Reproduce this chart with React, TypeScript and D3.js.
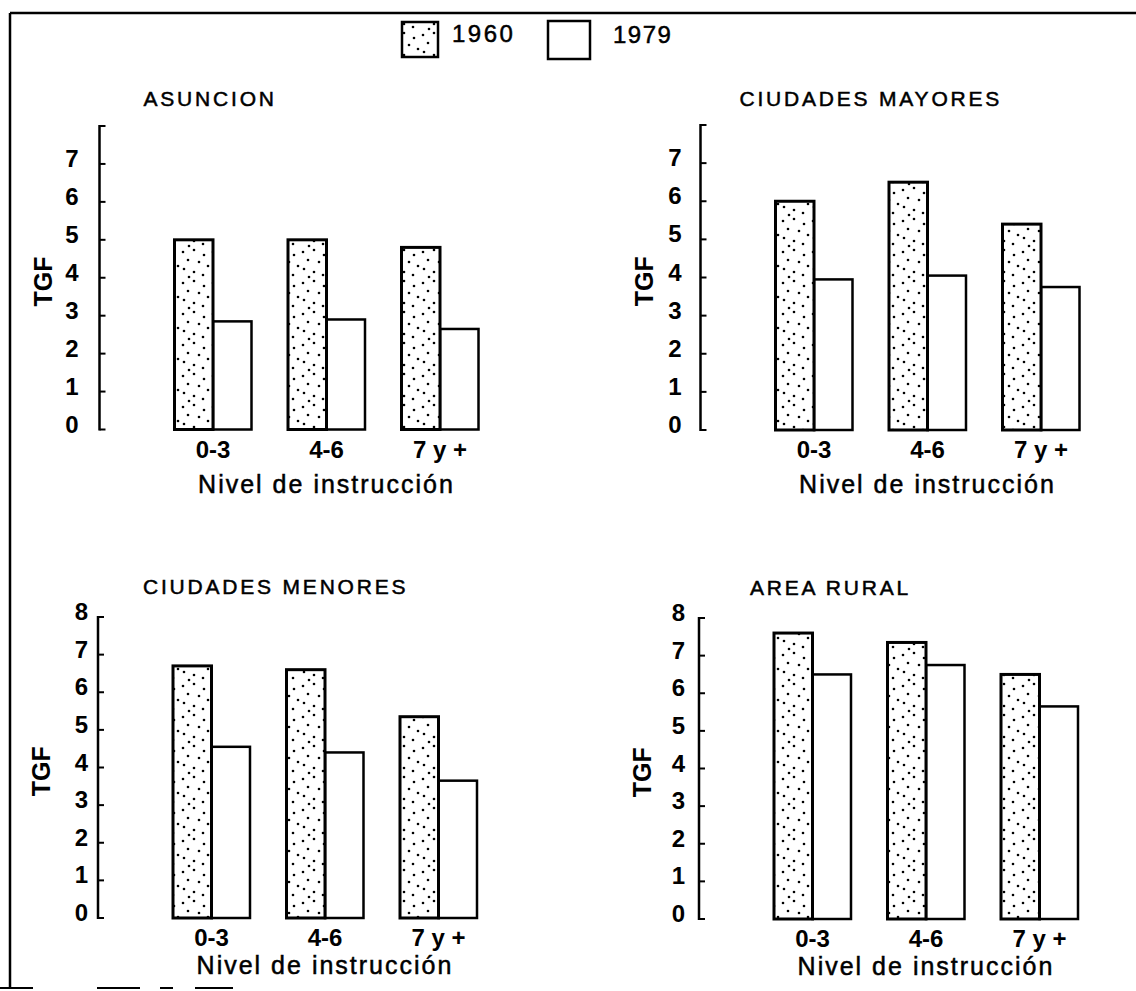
import React from "react";
import * as d3 from "d3";

// ---------- data ----------
const categories = ["0-3", "4-6", "7 y +"];
const seriesNames = ["1960", "1979"];
const panelTitles = ["ASUNCION", "CIUDADES MAYORES", "CIUDADES MENORES", "AREA RURAL"];

const asuncion1960 = [5.0, 5.0, 4.8];
const asuncion1979 = [2.85, 2.9, 2.65];
const mayores1960 = [6.0, 6.5, 5.4];
const mayores1979 = [3.95, 4.05, 3.75];
const menores1960 = [6.7, 6.6, 5.35];
const menores1979 = [4.55, 4.4, 3.65];
const rural1960 = [7.6, 7.35, 6.5];
const rural1979 = [6.5, 6.75, 5.65];

const ticksTop = [0, 1, 2, 3, 4, 5, 6, 7];
const ticksBottom = [0, 1, 2, 3, 4, 5, 6, 7, 8];
const yDomain = [0, 8];
const yLabel = "TGF";
const xLabel = "Nivel de instrucción";

// ---------- style / layout ----------
const W = 1136;
const H = 991;
const FONT = "'Liberation Sans', Arial, Helvetica, sans-serif";

const layouts = [
  { axisX: 99.5, zeroY: 429.5, topY: 126, labelGap: 21, titleDx: 44, nivelDy: 63 },
  { axisX: 700.5, zeroY: 430, topY: 125, labelGap: 19, titleDx: 39, nivelDy: 63 },
  { axisX: 98, zeroY: 918, topY: 617, labelGap: 10, titleDx: 45, nivelDy: 56 },
  { axisX: 699, zeroY: 919, topY: 618, labelGap: 14, titleDx: 51, nivelDy: 56 },
];

const stippleDots = [
  [3, 4], [14, 2], [24, 7], [8, 12], [19, 14], [28, 18], [4, 21], [14, 24], [23, 27], [9, 29],
];

const textHeavy = { stroke: "#000", strokeWidth: 0.5 };

function Panel({ title, v1960, v1979, ticks, L }) {
  const y = d3.scaleLinear().domain(yDomain).range([L.zeroY, L.topY]);
  const x = d3
    .scaleBand()
    .domain(categories)
    .range([L.axisX + 75, L.axisX + 379])
    .paddingInner(0.3216);
  const xs = d3.scaleBand().domain(seriesNames).range([0, x.bandwidth()]);
  const axisTicks = d3.range(yDomain[0], yDomain[1] + 1);
  const xMid = (x.range()[0] + x.range()[1]) / 2;

  return (
    <g>
      <text
        x={L.axisX + L.titleDx}
        y={L.zeroY - 324}
        fontSize={21}
        letterSpacing={2.8}
        fontFamily={FONT}
        {...textHeavy}
      >
        {title}
      </text>

      <line x1={L.axisX} x2={L.axisX} y1={y(yDomain[0]) + 1} y2={y(yDomain[1]) - 1} stroke="#000" strokeWidth={2.5} />
      {axisTicks.map((t) => (
        <line key={t} x1={L.axisX} x2={L.axisX + 6} y1={y(t)} y2={y(t)} stroke="#000" strokeWidth={2} />
      ))}
      {ticks.map((t) => (
        <text
          key={t}
          x={L.axisX - L.labelGap}
          y={y(t) + 3}
          textAnchor="end"
          fontSize={24}
          fontWeight="bold"
          fontFamily={FONT}
        >
          {t}
        </text>
      ))}
      <text
        transform={`translate(${L.axisX - 57},${y(3.9)}) rotate(-90)`}
        textAnchor="middle"
        dominantBaseline="central"
        fontSize={25}
        fontWeight="bold"
        fontFamily={FONT}
      >
        {yLabel}
      </text>

      {categories.map((c, i) => (
        <g key={c}>
          <rect
            x={(x(c) as number) + (xs("1979") as number)}
            y={y(v1979[i])}
            width={xs.bandwidth()}
            height={y(0) - y(v1979[i])}
            fill="#fff"
            stroke="#000"
            strokeWidth={2.5}
          />
          <rect
            x={(x(c) as number) + (xs("1960") as number)}
            y={y(v1960[i])}
            width={xs.bandwidth()}
            height={y(0) - y(v1960[i])}
            fill="url(#stipple)"
            stroke="#000"
            strokeWidth={3}
          />
          <text
            x={(x(c) as number) + x.bandwidth() / 2}
            y={y(0) + 28}
            textAnchor="middle"
            fontSize={24}
            fontWeight="bold"
            fontFamily={FONT}
          >
            {c}
          </text>
        </g>
      ))}

      <text
        x={xMid}
        y={L.zeroY + L.nivelDy}
        textAnchor="middle"
        fontSize={25}
        letterSpacing={2}
        fontFamily={FONT}
        {...textHeavy}
      >
        {xLabel}
      </text>
    </g>
  );
}

export default function App() {
  const panels = [
    { v1960: asuncion1960, v1979: asuncion1979, ticks: ticksTop },
    { v1960: mayores1960, v1979: mayores1979, ticks: ticksTop },
    { v1960: menores1960, v1979: menores1979, ticks: ticksBottom },
    { v1960: rural1960, v1979: rural1979, ticks: ticksBottom },
  ];
  return (
    <svg
      width={W}
      height={H}
      viewBox={`0 0 ${W} ${H}`}
      style={{ position: "absolute", left: 0, top: 0, background: "#fff" }}
    >
      <defs>
        <pattern id="stipple" width={30} height={31} patternUnits="userSpaceOnUse">
          <rect width={30} height={31} fill="#fff" />
          {stippleDots.map(([cx, cy], i) => (
            <circle key={i} cx={cx} cy={cy} r={1.3} fill="#000" />
          ))}
        </pattern>
      </defs>
      <rect width={W} height={H} fill="#fff" />

      <line x1={10} x2={W} y1={13} y2={13} stroke="#000" strokeWidth={2.5} />
      <line x1={10} x2={10} y1={13} y2={988} stroke="#000" strokeWidth={2.5} />
      {[[0, 33], [97, 140], [160, 173], [195, 233]].map(([a, b], i) => (
        <line key={i} x1={a} x2={b} y1={988} y2={988} stroke="#000" strokeWidth={2} />
      ))}

      <rect x={402} y={22} width={36} height={35} fill="url(#stipple)" stroke="#000" strokeWidth={2.5} />
      <text x={452} y={42} fontSize={24} letterSpacing={2.5} fontFamily={FONT} {...textHeavy}>
        {seriesNames[0]}
      </text>
      <rect x={548} y={21} width={42} height={38} fill="#fff" stroke="#000" strokeWidth={2.5} />
      <text x={613} y={43} fontSize={24} letterSpacing={1.5} fontFamily={FONT} {...textHeavy}>
        {seriesNames[1]}
      </text>

      {panels.map((p, i) => (
        <Panel key={i} title={panelTitles[i]} v1960={p.v1960} v1979={p.v1979} ticks={p.ticks} L={layouts[i]} />
      ))}
    </svg>
  );
}
